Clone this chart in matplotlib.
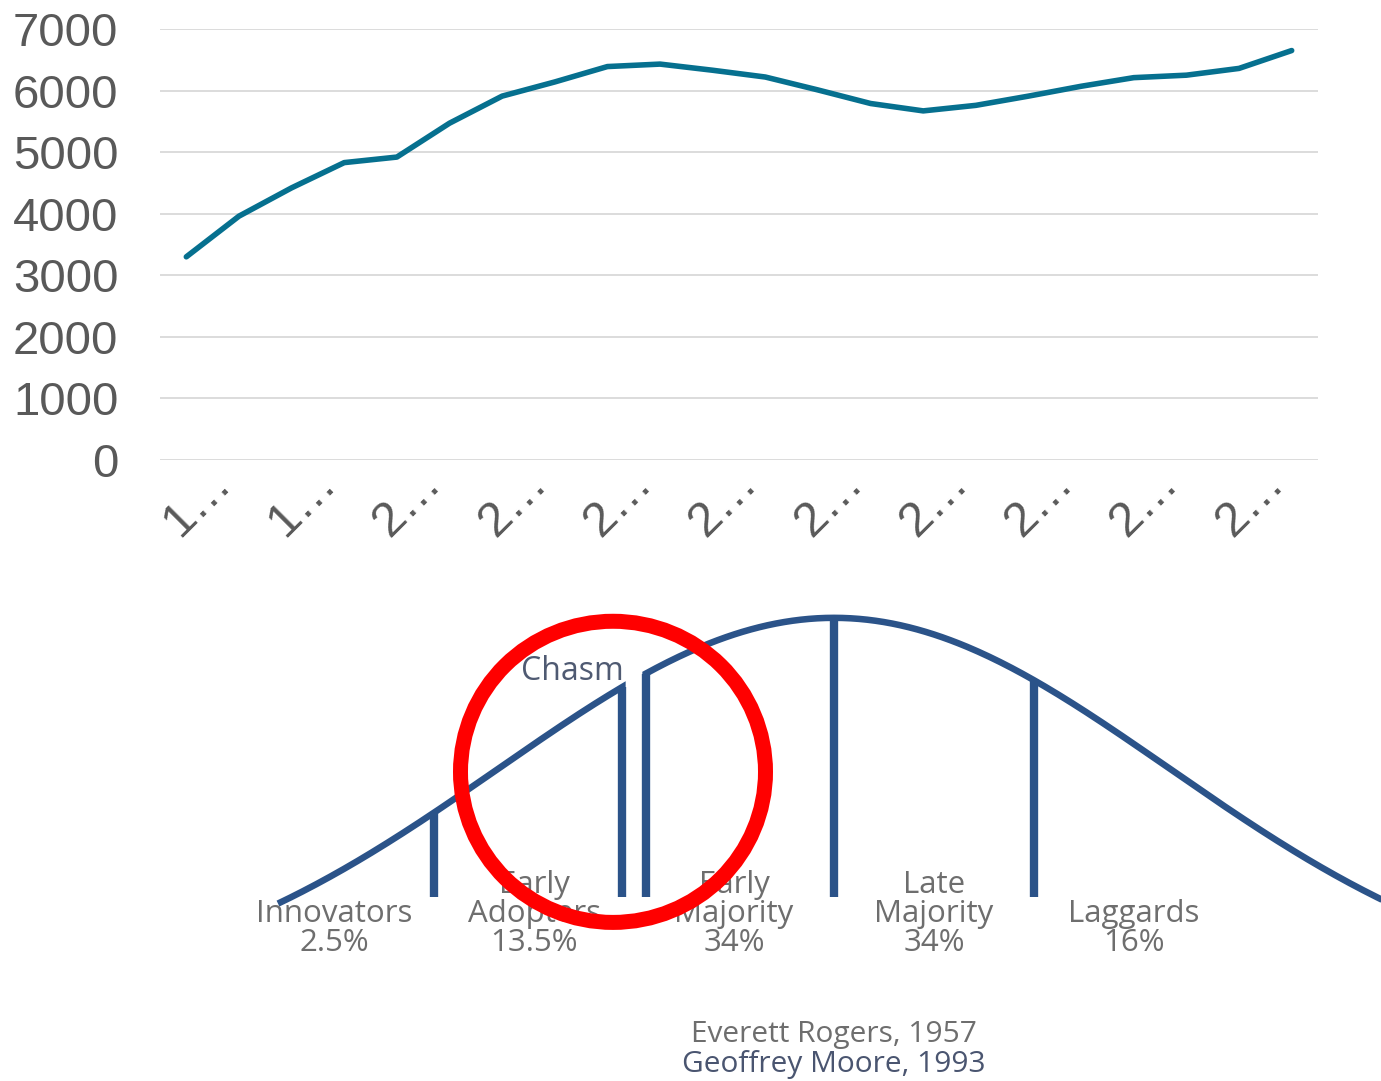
import numpy as np
import matplotlib
matplotlib.use("Agg")
import matplotlib.pyplot as plt
from matplotlib.patches import Ellipse
from matplotlib.transforms import ScaledTranslation

# yearly series shown in the upper panel
years = list(range(1997, 2019))
values = [3300, 3960, 4420, 4830, 4920, 5470, 5910, 6140, 6390, 6430, 6330,
          6220, 6010, 5790, 5670, 5760, 5910, 6070, 6210, 6250, 6360, 6650]
tick_years = years[::2]
tick_labels = [str(y)[0] + "…" for y in tick_years]

# technology adoption lifecycle (lower panel)
segments = ["Innovators", "Early\nAdopters", "Early\nMajority", "Late\nMajority", "Laggards"]
shares = [2.5, 13.5, 34, 34, 16]
boundaries_sd = [-2, -1, 0, 1]          # segment edges in standard deviations
segment_mid_sd = [-2.5, -1.5, -0.5, 0.5, 1.5]
chasm_sd = -1
credits = ["Everett Rogers, 1957", "Geoffrey Moore, 1993"]

LINE = "#06708f"
CURVE = "#2b5389"
GREY = "#595959"
LABEL_GREY = "#6e6e6e"
CURVE_WIDTH = 1.675
CURVE_FLOOR = 0.27
CHASM_HALF = 0.058

plt.rcParams["font.family"] = ["Liberation Sans", "DejaVu Sans"]

fig = plt.figure(figsize=(13.81, 10.81), dpi=100)

# ---- upper panel: line chart ----
ax = fig.add_axes([160 / 1381, 621 / 1081, 1158 / 1381, 431 / 1081])
x = np.arange(len(values))
ax.plot(x, values, color=LINE, lw=4, solid_capstyle="round",
        solid_joinstyle="round", zorder=3)
ax.set_xlim(-0.5, len(values) - 0.5)
ax.set_ylim(0, 7000)
ax.set_yticks(range(0, 7001, 1000))
ax.grid(axis="y", color="#d9d9d9", lw=1.3)
ax.set_axisbelow(True)
for s in ax.spines.values():
    s.set_visible(False)
ax.tick_params(length=0)
ax.tick_params(axis="y", labelsize=34, labelcolor=GREY, pad=30)
ax.set_xticks(x[::2])
ax.set_xticklabels(tick_labels, rotation=45, ha="center", va="top",
                   fontsize=35, color=GREY)
ax.tick_params(axis="x", pad=0)
shift = ScaledTranslation(11 / 100, 0, fig.dpi_scale_trans)
for lab in ax.get_xticklabels():
    lab.set_transform(lab.get_transform() + shift)

# ---- lower panel: adoption curve with the chasm ----
ax2 = fig.add_axes([0, 0, 1, 501 / 1081])
ax2.set_xlim(-4.17, 2.735)
ax2.set_ylim(-0.482, 0.829)
ax2.axis("off")


def bell(z):
    return np.exp(-np.asarray(z) ** 2 / (2 * CURVE_WIDTH ** 2)) - CURVE_FLOOR


left_edge = chasm_sd - CHASM_HALF
right_edge = chasm_sd + CHASM_HALF

zl = np.linspace(-2.78, left_edge, 200)
ax2.plot(np.append(zl, left_edge), np.append(bell(zl), 0), color=CURVE,
         lw=4.7, solid_joinstyle="miter", solid_capstyle="butt")
zr = np.linspace(right_edge, 3.2, 300)
ax2.plot(np.insert(zr, 0, right_edge), np.insert(bell(zr), 0, 0), color=CURVE,
         lw=4.7, solid_joinstyle="miter", solid_capstyle="butt")
ax2.plot([left_edge, left_edge], [0, bell(left_edge)], color=CURVE, lw=6,
         solid_capstyle="butt")
ax2.plot([right_edge, right_edge], [0, bell(right_edge)], color=CURVE, lw=6,
         solid_capstyle="butt")

for b in boundaries_sd:
    if b == chasm_sd:
        continue
    ax2.plot([b, b], [0, bell(b)], color=CURVE, lw=6, solid_capstyle="butt")

lab_font = ["Open Sans", "DejaVu Sans"]
for name, share, mid in zip(segments, shares, segment_mid_sd):
    ax2.text(mid, -0.16, f"{name}\n{share:g}%", ha="center", va="bottom",
             fontsize=22.5, color=LABEL_GREY, family=lab_font, linespacing=0.95)

ax2.text(chasm_sd - 0.31, 0.589, "Chasm", ha="center", va="center",
         fontsize=23, color="#4f5a72", family=lab_font)

ax2.text(0, -0.36, credits[0], ha="center", va="center", fontsize=21.5,
         color=LABEL_GREY, family=lab_font)
ax2.text(0, -0.44, credits[1], ha="center", va="center", fontsize=21.5,
         color="#4a5570", family=lab_font)

ax2.add_patch(Ellipse((-1.105, 0.327), width=1.525, height=0.788, fill=False,
                      ec="#ff0000", lw=10.8, zorder=5))

fig.savefig("out.png", dpi=100)
